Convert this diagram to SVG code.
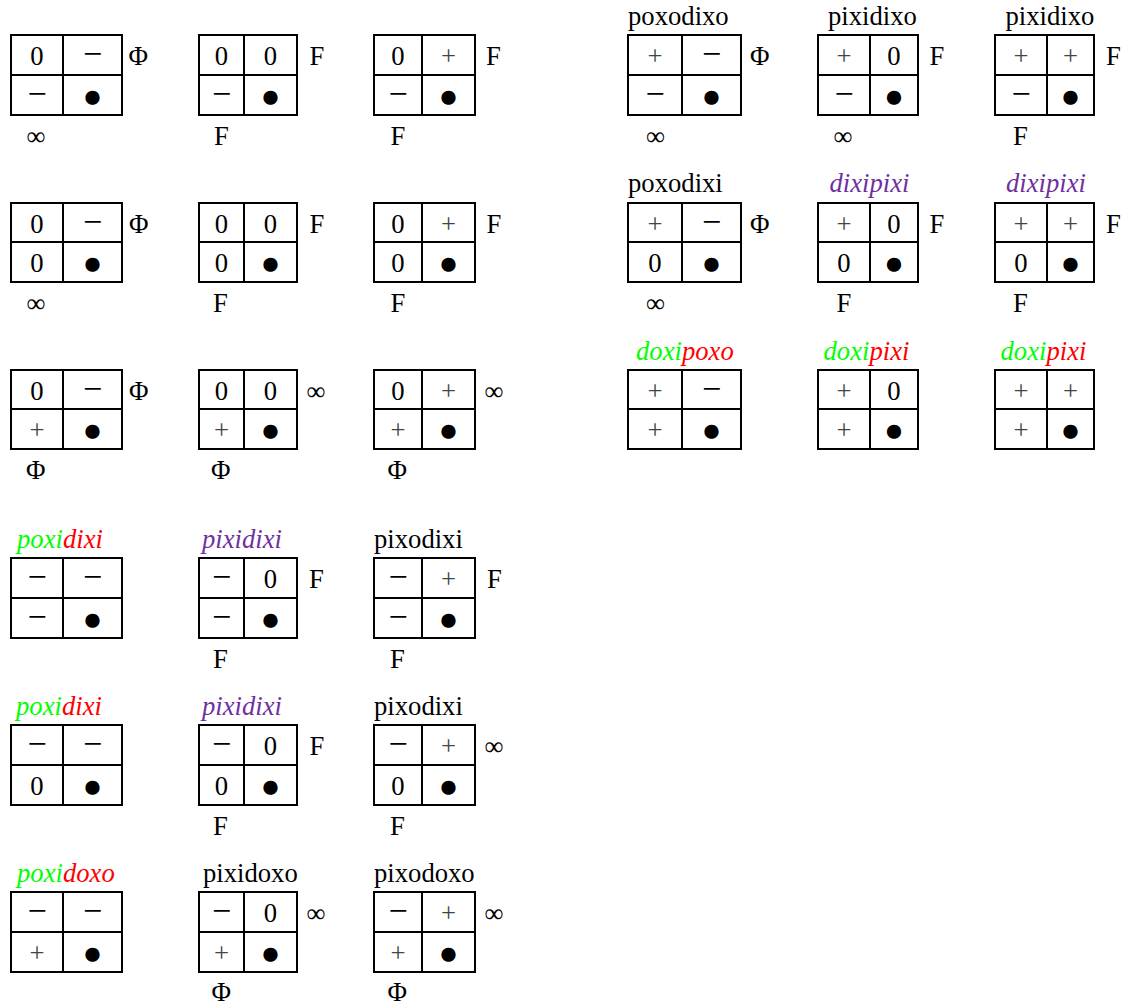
<svg xmlns="http://www.w3.org/2000/svg" width="1123" height="1005" viewBox="0 0 1123 1005">
<style>
text{font-family:"Liberation Serif","Times New Roman",serif;font-size:26.67px;fill:#000}
.c{text-anchor:middle}
.p{fill:#444}
.m{font-size:34px}
.b{font-size:33px}
.i{font-style:italic}
.g{fill:#00ff00}
.r{fill:#ff0000}
.v{fill:#7030a0}
.t{fill:none;stroke:#000;stroke-width:2}
</style>
<rect width="1123" height="1005" fill="#fff"/>
<g id="connectors"/>

<!-- Left column, row 1 -->
<g id="n-L1-1">
<path class="t" d="M11 35H122V115H11Z M63 35V115 M11 75H122"/>
<text class="c" x="37" y="65">0</text><text class="c m" x="92.5" y="65">−</text>
<text class="c m" x="37" y="105">−</text><text class="c b" x="92.5" y="106.5">●</text>
<text x="128.5" y="65">Φ</text><text x="26.5" y="144.5">∞</text>
</g>
<g id="n-L2-1">
<path class="t" d="M199 35H297V115H199Z M244 35V115 M199 75H297"/>
<text class="c" x="221.5" y="65">0</text><text class="c" x="270.5" y="65">0</text>
<text class="c m" x="221.5" y="105">−</text><text class="c b" x="270.5" y="106.5">●</text>
<text x="309.5" y="65">F</text><text x="214" y="144.5">F</text>
</g>
<g id="n-L3-1">
<path class="t" d="M374 35H475V115H374Z M422 35V115 M374 75H475"/>
<text class="c" x="398" y="65">0</text><text class="c p" x="448.5" y="65">+</text>
<text class="c m" x="398" y="105">−</text><text class="c b" x="448.5" y="106.5">●</text>
<text x="486" y="65">F</text><text x="390.5" y="144.5">F</text>
</g>

<!-- Left column, row 2 -->
<g id="n-L1-2">
<path class="t" d="M11 203H122V282H11Z M63 203V282 M11 242H122"/>
<text class="c" x="37" y="232.5">0</text><text class="c m" x="92.5" y="232.5">−</text>
<text class="c" x="37" y="272">0</text><text class="c b" x="92.5" y="273.5">●</text>
<text x="129" y="232.5">Φ</text><text x="26.5" y="311.5">∞</text>
</g>
<g id="n-L2-2">
<path class="t" d="M199 203H297V282H199Z M244 203V282 M199 242H297"/>
<text class="c" x="221.5" y="232.5">0</text><text class="c" x="270.5" y="232.5">0</text>
<text class="c" x="221.5" y="272">0</text><text class="c b" x="270.5" y="273.5">●</text>
<text x="309.5" y="232.5">F</text><text x="213" y="311.5">F</text>
</g>
<g id="n-L3-2">
<path class="t" d="M374 203H475V282H374Z M422 203V282 M374 242H475"/>
<text class="c" x="398" y="232.5">0</text><text class="c p" x="448.5" y="232.5">+</text>
<text class="c" x="398" y="272">0</text><text class="c b" x="448.5" y="273.5">●</text>
<text x="486.5" y="232.5">F</text><text x="390.5" y="311.5">F</text>
</g>

<!-- Left column, row 3 -->
<g id="n-L1-3">
<path class="t" d="M11 370H122V449H11Z M63 370V449 M11 409H122"/>
<text class="c" x="37" y="399.5">0</text><text class="c m" x="92.5" y="399.5">−</text>
<text class="c p" x="37" y="439">+</text><text class="c b" x="92.5" y="440.5">●</text>
<text x="129" y="399.5">Φ</text><text x="26" y="478.5">Φ</text>
</g>
<g id="n-L2-3">
<path class="t" d="M199 370H297V449H199Z M244 370V449 M199 409H297"/>
<text class="c" x="221.5" y="399.5">0</text><text class="c" x="270.5" y="399.5">0</text>
<text class="c p" x="221.5" y="439">+</text><text class="c b" x="270.5" y="440.5">●</text>
<text x="306.5" y="399.5">∞</text><text x="211" y="478.5">Φ</text>
</g>
<g id="n-L3-3">
<path class="t" d="M374 370H475V449H374Z M422 370V449 M374 409H475"/>
<text class="c" x="398" y="399.5">0</text><text class="c p" x="448.5" y="399.5">+</text>
<text class="c p" x="398" y="439">+</text><text class="c b" x="448.5" y="440.5">●</text>
<text x="484.5" y="399.5">∞</text><text x="387.5" y="478.5">Φ</text>
</g>

<!-- Left column, row 4 -->
<g id="n-L1-4">
<text class="i" x="17" y="548"><tspan class="g">poxi</tspan><tspan class="r">dixi</tspan></text>
<path class="t" d="M11 558H122V638H11Z M63 558V638 M11 598H122"/>
<text class="c m" x="37" y="588">−</text><text class="c m" x="92.5" y="588">−</text>
<text class="c m" x="37" y="628">−</text><text class="c b" x="92.5" y="629.5">●</text>
</g>
<g id="n-L2-4">
<text class="i v" x="202" y="548">pixidixi</text>
<path class="t" d="M199 558H297V638H199Z M244 558V638 M199 598H297"/>
<text class="c m" x="221.5" y="588">−</text><text class="c" x="270.5" y="588">0</text>
<text class="c m" x="221.5" y="628">−</text><text class="c b" x="270.5" y="629.5">●</text>
<text x="309" y="588">F</text><text x="213" y="667.5">F</text>
</g>
<g id="n-L3-4">
<text x="374" y="548">pixodixi</text>
<path class="t" d="M374 558H475V638H374Z M422 558V638 M374 598H475"/>
<text class="c m" x="398" y="588">−</text><text class="c p" x="448.5" y="588">+</text>
<text class="c m" x="398" y="628">−</text><text class="c b" x="448.5" y="629.5">●</text>
<text x="487" y="588">F</text><text x="390" y="667.5">F</text>
</g>

<!-- Left column, row 5 -->
<g id="n-L1-5">
<text class="i" x="16" y="715"><tspan class="g">poxi</tspan><tspan class="r">dixi</tspan></text>
<path class="t" d="M11 725H122V805H11Z M63 725V805 M11 765H122"/>
<text class="c m" x="37" y="755">−</text><text class="c m" x="92.5" y="755">−</text>
<text class="c" x="37" y="795">0</text><text class="c b" x="92.5" y="796.5">●</text>
</g>
<g id="n-L2-5">
<text class="i v" x="202" y="715">pixidixi</text>
<path class="t" d="M199 725H297V805H199Z M244 725V805 M199 765H297"/>
<text class="c m" x="221.5" y="755">−</text><text class="c" x="270.5" y="755">0</text>
<text class="c" x="221.5" y="795">0</text><text class="c b" x="270.5" y="796.5">●</text>
<text x="309.5" y="755">F</text><text x="213" y="834.5">F</text>
</g>
<g id="n-L3-5">
<text x="374" y="715">pixodixi</text>
<path class="t" d="M374 725H475V805H374Z M422 725V805 M374 765H475"/>
<text class="c m" x="398" y="755">−</text><text class="c p" x="448.5" y="755">+</text>
<text class="c" x="398" y="795">0</text><text class="c b" x="448.5" y="796.5">●</text>
<text x="484.5" y="755">∞</text><text x="390" y="834.5">F</text>
</g>

<!-- Left column, row 6 -->
<g id="n-L1-6">
<text class="i" x="17" y="882"><tspan class="g">poxi</tspan><tspan class="r">doxo</tspan></text>
<path class="t" d="M11 892H122V972H11Z M63 892V972 M11 932H122"/>
<text class="c m" x="37" y="922">−</text><text class="c m" x="92.5" y="922">−</text>
<text class="c p" x="37" y="962">+</text><text class="c b" x="92.5" y="963.5">●</text>
</g>
<g id="n-L2-6">
<text x="203" y="882">pixidoxo</text>
<path class="t" d="M199 892H297V972H199Z M244 892V972 M199 932H297"/>
<text class="c m" x="221.5" y="922">−</text><text class="c" x="270.5" y="922">0</text>
<text class="c p" x="221.5" y="962">+</text><text class="c b" x="270.5" y="963.5">●</text>
<text x="306.5" y="922">∞</text><text x="211.5" y="1001">Φ</text>
</g>
<g id="n-L3-6">
<text x="374" y="882">pixodoxo</text>
<path class="t" d="M374 892H475V972H374Z M422 892V972 M374 932H475"/>
<text class="c m" x="398" y="922">−</text><text class="c p" x="448.5" y="922">+</text>
<text class="c p" x="398" y="962">+</text><text class="c b" x="448.5" y="963.5">●</text>
<text x="484.5" y="922">∞</text><text x="387.5" y="1001">Φ</text>
</g>

<!-- Right column, row 1 -->
<g id="n-RA-1">
<text x="628" y="25">poxodixo</text>
<path class="t" d="M628 35H741V115H628Z M682 35V115 M628 75H741"/>
<text class="c p" x="655" y="65">+</text><text class="c m" x="711.5" y="65">−</text>
<text class="c m" x="655" y="105">−</text><text class="c b" x="711.5" y="106.5">●</text>
<text x="750" y="65">Φ</text><text x="646" y="144.5">∞</text>
</g>
<g id="n-RB-1">
<text x="828" y="25">pixidixo</text>
<path class="t" d="M818 35H918V115H818Z M870 35V115 M818 75H918"/>
<text class="c p" x="844" y="65">+</text><text class="c" x="894" y="65">0</text>
<text class="c m" x="844" y="105">−</text><text class="c b" x="894" y="106.5">●</text>
<text x="929.5" y="65">F</text><text x="833.5" y="144.5">∞</text>
</g>
<g id="n-RC-1">
<text x="1005.5" y="25">pixidixo</text>
<path class="t" d="M995 35H1094V115H995Z M1047 35V115 M995 75H1094"/>
<text class="c p" x="1021" y="65">+</text><text class="c p" x="1070.5" y="65">+</text>
<text class="c m" x="1021" y="105">−</text><text class="c b" x="1070.5" y="106.5">●</text>
<text x="1106" y="65">F</text><text x="1013" y="144.5">F</text>
</g>

<!-- Right column, row 2 -->
<g id="n-RA-2">
<text x="628" y="192">poxodixi</text>
<path class="t" d="M628 203H741V282H628Z M682 203V282 M628 242H741"/>
<text class="c p" x="655" y="232.5">+</text><text class="c m" x="711.5" y="232.5">−</text>
<text class="c" x="655" y="272">0</text><text class="c b" x="711.5" y="273.5">●</text>
<text x="750" y="232.5">Φ</text><text x="646" y="311.5">∞</text>
</g>
<g id="n-RB-2">
<text class="i v" x="829.5" y="192">dixipixi</text>
<path class="t" d="M818 203H918V282H818Z M870 203V282 M818 242H918"/>
<text class="c p" x="844" y="232.5">+</text><text class="c" x="894" y="232.5">0</text>
<text class="c" x="844" y="272">0</text><text class="c b" x="894" y="273.5">●</text>
<text x="929.5" y="232.5">F</text><text x="836.5" y="311.5">F</text>
</g>
<g id="n-RC-2">
<text class="i v" x="1006" y="192">dixipixi</text>
<path class="t" d="M995 203H1094V282H995Z M1047 203V282 M995 242H1094"/>
<text class="c p" x="1021" y="232.5">+</text><text class="c p" x="1070.5" y="232.5">+</text>
<text class="c" x="1021" y="272">0</text><text class="c b" x="1070.5" y="273.5">●</text>
<text x="1106" y="232.5">F</text><text x="1013" y="311.5">F</text>
</g>

<!-- Right column, row 3 -->
<g id="n-RA-3">
<text class="i" x="636" y="360"><tspan class="g">doxi</tspan><tspan class="r">poxo</tspan></text>
<path class="t" d="M628 370H741V449H628Z M682 370V449 M628 409H741"/>
<text class="c p" x="655" y="399.5">+</text><text class="c m" x="711.5" y="399.5">−</text>
<text class="c p" x="655" y="439">+</text><text class="c b" x="711.5" y="440.5">●</text>
</g>
<g id="n-RB-3">
<text class="i" x="823.5" y="360"><tspan class="g">doxi</tspan><tspan class="r">pixi</tspan></text>
<path class="t" d="M818 370H918V449H818Z M870 370V449 M818 409H918"/>
<text class="c p" x="844" y="399.5">+</text><text class="c" x="894" y="399.5">0</text>
<text class="c p" x="844" y="439">+</text><text class="c b" x="894" y="440.5">●</text>
</g>
<g id="n-RC-3">
<text class="i" x="1000.5" y="360"><tspan class="g">doxi</tspan><tspan class="r">pixi</tspan></text>
<path class="t" d="M995 370H1094V449H995Z M1047 370V449 M995 409H1094"/>
<text class="c p" x="1021" y="399.5">+</text><text class="c p" x="1070.5" y="399.5">+</text>
<text class="c p" x="1021" y="439">+</text><text class="c b" x="1070.5" y="440.5">●</text>
</g>
</svg>
